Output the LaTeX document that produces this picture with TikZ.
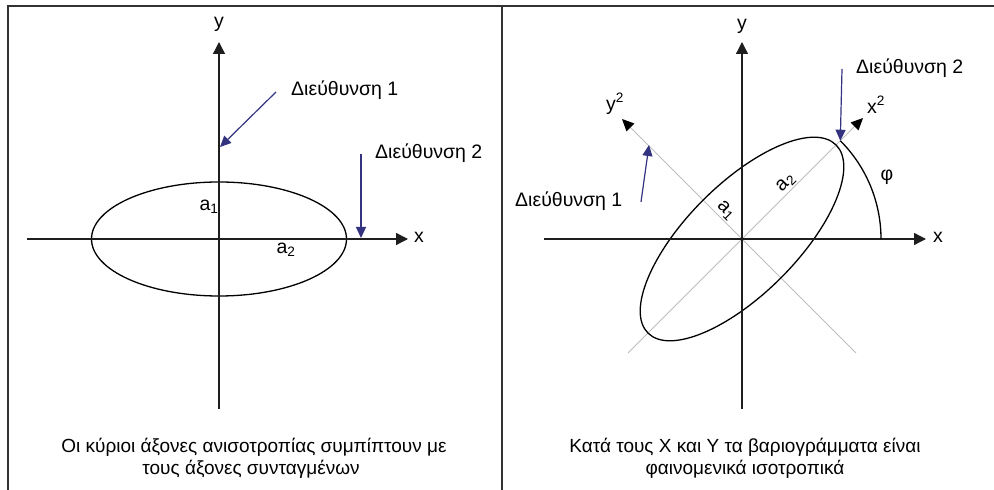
\documentclass[tikz,border=0pt]{standalone}
\usepackage{fontspec}
\setmainfont{Liberation Sans}
\usetikzlibrary{arrows.meta,shapes.geometric}
\definecolor{navyarrow}{RGB}{51,51,128}
\definecolor{axiscol}{RGB}{30,30,30}
\definecolor{frameCol}{RGB}{50,50,50}
\definecolor{lightax}{RGB}{190,190,190}
\begin{document}
\begin{tikzpicture}[x=1pt,y=1pt,
  lbl/.style={font=\fontsize{19.5}{22}\selectfont, inner sep=1pt},
  captiontext/.style={font=\fontsize{19}{22}\selectfont, inner sep=1pt},
  axisline/.style={draw=axiscol, line width=1.3pt, -{Triangle[length=12pt,width=12pt]}},
  gax/.style={draw=lightax, line width=0.9pt, -{Triangle[length=12pt,width=11pt,fill=black,color=black]}},
  dirarrow/.style={draw=navyarrow, line width=1.2pt, -{Triangle[length=11pt,width=10pt]}},
  framestyle/.style={draw=frameCol, line width=1.5pt},
  ell/.style={ellipse, draw=black, line width=1.3pt, inner sep=0pt}]
\useasboundingbox (0,0) rectangle (994,490);
% frame
\coordinate (F0) at (8,0);
\coordinate (F1) at (8,484);
\coordinate (F2) at (994,484);
\coordinate (D0) at (502,0);
\coordinate (D1) at (502,484);
\draw[framestyle] (F0) -- (F1) -- (F2);
\draw[framestyle] (D0) -- (D1);

% ---------- left panel ----------
\coordinate (Ly0) at (219,81);
\coordinate (Ly1) at (219,448);
\coordinate (Lx0) at (27,251);
\coordinate (Lx1) at (408,251);
\node[ell, minimum width=255pt, minimum height=114pt] (Lell) at (219,251) {};
\draw[axisline] (Ly0) -- (Ly1);
\draw[axisline] (Lx0) -- (Lx1);
\node[lbl] (Lylab) at (219,466) {y};
\node[lbl] (Lxlab) at (419,253) {x};
\node[lbl] (La1) at (209,283) {a\textsubscript{1}};
\node[lbl] (La2) at (286,240) {a\textsubscript{2}};
\coordinate (Ld1s) at (276,398);
\coordinate (Ld1e) at (220,343);
\draw[dirarrow] (Ld1s) -- (Ld1e);
\node[lbl, anchor=west] (Ld1lab) at (290,400) {Διεύθυνση 1};
\coordinate (Ld2s) at (361,336);
\coordinate (Ld2e) at (361,252);
\draw[dirarrow] (Ld2s) -- (Ld2e);
\node[lbl, anchor=west] (Ld2lab) at (374,337) {Διεύθυνση 2};

% ---------- right panel ----------
\coordinate (O) at (742,251);
\coordinate (Ry0) at (742,81);
\coordinate (Ry1) at (742,448);
\coordinate (Rx0) at (544,251);
\coordinate (Rx1) at (926,251);
\coordinate (Gy0) at (856,137);
\coordinate (Gy1) at (622,371);
\coordinate (Gx0) at (628,137);
\coordinate (Gx1) at (863,372);
\draw[gax] (Gy0) -- (Gy1);
\draw[gax] (Gx0) -- (Gx1);
\node[ell, rotate=45, minimum width=266pt, minimum height=110pt] (Rell) at (O) {};
\draw[axisline] (Ry0) -- (Ry1);
\draw[axisline] (Rx0) -- (Rx1);
\node[lbl] (Rylab) at (742,464) {y};
\node[lbl] (Rxlab) at (938,253) {x};
\node[lbl] (Ry2lab) at (615,386) {y\textsuperscript{2}};
\node[lbl] (Rx2lab) at (876,385) {x\textsuperscript{2}};
% phi arc
\draw[line width=1.3pt] (O) ++(0:139) coordinate (Pa) arc[start angle=0, end angle=45, radius=139] coordinate (Pb);
\node[lbl] (Rphi) at (887,313) {φ};
\node[lbl, rotate=45] (Ra2) at (786,307) {a\textsubscript{2}};
\node[lbl, rotate=-45, inner sep=0pt] (Ra1) at (726,279) {a\textsubscript{1}};
\coordinate (Rd2s) at (842,421);
\draw[dirarrow] (Rd2s) -- (Pb);
\node[lbl, anchor=west] (Rd2lab) at (855,422) {Διεύθυνση 2};
\coordinate (Rd1s) at (641,288);
\coordinate (Rd1e) at (649,345);
\draw[dirarrow] (Rd1s) -- (Rd1e);
\node[lbl, anchor=west] (Rd1lab) at (514,289) {Διεύθυνση 1};

% ---------- captions ----------
\node[captiontext, anchor=base] (Lc1) at (254,37) {Οι κύριοι άξονες ανισοτροπίας συμπίπτουν με};
\node[captiontext, anchor=base] (Lc2) at (251,15) {τους άξονες συνταγμένων};
\node[captiontext, anchor=base] (Rc1) at (745,37) {Κατά τους X και Y τα βαριογράμματα είναι};
\node[captiontext, anchor=base] (Rc2) at (745,15) {φαινομενικά ισοτροπικά};
\end{tikzpicture}
\end{document}
